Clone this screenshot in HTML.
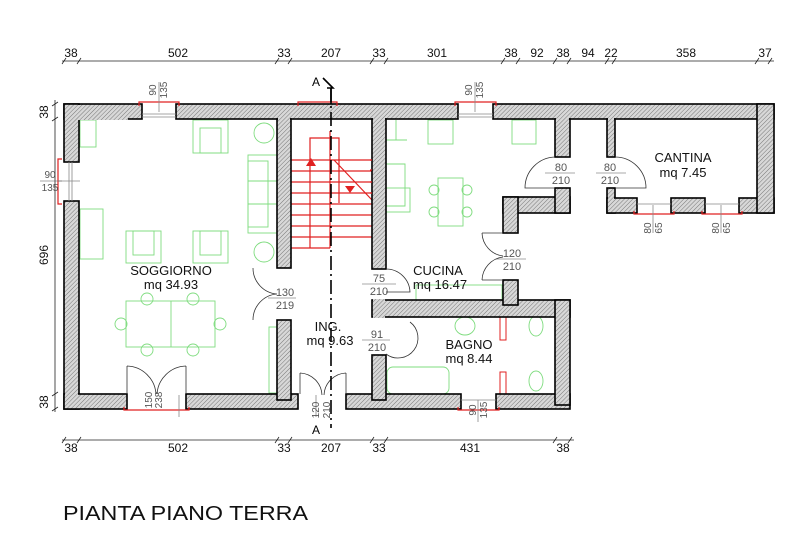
<!DOCTYPE html>
<html><head><meta charset="utf-8"><style>
html,body{margin:0;padding:0;background:#fff;}
svg{display:block;}
text{font-family:"Liberation Sans",sans-serif;}
</style></head><body>
<svg width="800" height="533" viewBox="0 0 800 533" xmlns="http://www.w3.org/2000/svg">
<defs>
<pattern id="h" width="3" height="3" patternUnits="userSpaceOnUse" patternTransform="rotate(45)">
<rect width="3" height="3" fill="#d8d8d8"/><line x1="0" y1="0" x2="0" y2="3" stroke="#777" stroke-width="1"/>
</pattern>
</defs>
<rect width="800" height="533" fill="#fff"/>

<g stroke="#222" stroke-width="0.8" fill="none">
<line x1="62" y1="61" x2="774" y2="61"/>
<line x1="62" y1="440" x2="574" y2="440"/>
<line x1="55" y1="100" x2="55" y2="412"/>
</g>
<g stroke="#222" stroke-width="0.8">
<path d="M62 64l4-6M77 64l4-6M275 64l4-6M288 64l4-6M370 64l4-6M384 64l4-6M501 64l4-6M516 64l4-6M553 64l4-6M567 64l4-6M605 64l4-6M612 64l4-6M755 64l4-6M768 64l4-6"/>
<path d="M62 443l4-6M77 443l4-6M275 443l4-6M288 443l4-6M370 443l4-6M384 443l4-6M553 443l4-6M568 443l4-6"/>
<path d="M52 106l6-4M52 121l6-4M52 396l6-4M52 411l6-4"/>
</g>
<g font-size="12" fill="#111" text-anchor="middle">
<text x="71" y="57">38</text><text x="178" y="57">502</text><text x="284" y="57">33</text><text x="331" y="57">207</text><text x="379" y="57">33</text><text x="437" y="57">301</text><text x="511" y="57">38</text><text x="537" y="57">92</text><text x="563" y="57">38</text><text x="588" y="57">94</text><text x="611" y="57">22</text><text x="686" y="57">358</text><text x="765" y="57">37</text>
<text x="71" y="452">38</text><text x="178" y="452">502</text><text x="284" y="452">33</text><text x="331" y="452">207</text><text x="379" y="452">33</text><text x="470" y="452">431</text><text x="563" y="452">38</text>
<text transform="translate(48,112) rotate(-90)">38</text>
<text transform="translate(48,255) rotate(-90)">696</text>
<text transform="translate(48,402) rotate(-90)">38</text>
</g>

<g stroke="#7fdc7f" stroke-width="0.9" fill="none">
<rect x="80" y="120" width="16" height="27"/>
<rect x="193" y="120" width="35" height="33"/><rect x="200" y="128" width="21" height="25"/>
<circle cx="264" cy="133" r="10"/><circle cx="264" cy="252" r="10"/>
<rect x="248" y="155" width="29" height="78"/><rect x="248" y="161" width="20" height="66"/>
<line x1="248" y1="181" x2="277" y2="181"/><line x1="248" y1="204" x2="277" y2="204"/>
<rect x="80" y="209" width="23" height="50"/>
<rect x="126" y="231" width="35" height="32"/><rect x="133" y="231" width="21" height="24"/>
<rect x="193" y="231" width="35" height="32"/><rect x="200" y="231" width="21" height="24"/>
<rect x="126" y="301" width="89" height="46"/><line x1="171" y1="301" x2="171" y2="347"/>
<circle cx="147" cy="299" r="6"/><circle cx="193" cy="299" r="6"/><circle cx="147" cy="350" r="6"/><circle cx="193" cy="350" r="6"/>
<circle cx="121" cy="324" r="6"/><circle cx="220" cy="324" r="6"/>
<rect x="269" y="327" width="8" height="66"/>
<path d="M386 140h21M396 120v20M386 164h19v42h-19"/>
<rect x="428" y="120" width="25" height="24"/><rect x="512" y="120" width="24" height="24"/>
<rect x="438" y="178" width="25" height="48"/>
<circle cx="434" cy="190" r="5"/><circle cx="434" cy="212" r="5"/><circle cx="467" cy="190" r="5"/><circle cx="467" cy="212" r="5"/>
<rect x="386" y="188" width="24" height="24"/>
<rect x="416" y="285" width="86" height="15"/>
<rect x="387" y="367" width="62" height="27" rx="6"/>
<ellipse cx="465" cy="326" rx="10" ry="9"/><ellipse cx="536" cy="326" rx="7" ry="10"/><ellipse cx="536" cy="381" rx="7" ry="10"/>
</g>
<g stroke="#e02020" stroke-width="1" fill="none">
<rect x="500" y="316" width="6" height="24"/><rect x="500" y="372" width="6" height="24"/>
</g>

<g stroke="#e02020" stroke-width="1.2" fill="none">
<path d="M291 160h81M291 171h81M291 182h81M291 193h81M291 204h81M291 215h81M291 226h81M291 237h81M291 248h39"/>
<path d="M310 248v-110h29v65M330 131v117M334 160l38 40"/>
</g>
<path d="M306 166l5-8 5 8z M345 186h10l-5 7z" fill="#e02020"/>

<g fill="url(#h)" stroke="#000" stroke-width="1.6">
<rect x="64" y="104" width="78" height="15"/>
<rect x="176" y="104" width="282" height="15"/>
<rect x="493" y="104" width="281" height="15"/>
<rect x="64" y="104" width="15" height="58"/>
<rect x="64" y="201" width="15" height="208"/>
<rect x="64" y="394" width="63" height="15"/>
<rect x="186" y="394" width="112" height="15"/>
<rect x="346" y="394" width="115" height="15"/>
<rect x="496" y="394" width="74" height="15"/>
<rect x="277" y="119" width="14" height="149"/>
<rect x="277" y="320" width="14" height="80"/>
<rect x="372" y="119" width="14" height="150"/>
<rect x="372" y="300" width="198" height="17"/>
<rect x="372" y="355" width="14" height="45"/>
<rect x="555" y="300" width="15" height="105"/>
<rect x="503" y="280" width="15" height="25"/>
<rect x="555" y="119" width="15" height="38"/>
<rect x="503" y="197" width="67" height="16"/>
<rect x="555" y="188" width="15" height="25"/>
<rect x="503" y="197" width="15" height="36"/>
<rect x="607" y="119" width="8" height="38"/>
<rect x="607" y="188" width="8" height="25"/>
<rect x="607" y="198" width="30" height="15"/>
<rect x="671" y="198" width="34" height="15"/>
<rect x="739" y="198" width="35" height="15"/>
<rect x="757" y="104" width="17" height="109"/>
</g>
<g fill="url(#h)">
<rect x="78" y="105" width="50" height="15"/><rect x="278" y="105" width="12" height="15"/><rect x="373" y="105" width="12" height="15"/>
<rect x="556" y="105" width="13" height="15"/><rect x="608" y="105" width="6" height="15"/><rect x="758" y="105" width="15" height="15"/>
<rect x="65" y="118" width="13" height="4"/><rect x="65" y="393" width="13" height="4"/>
<rect x="373" y="299" width="12" height="19"/><rect x="556" y="301" width="13" height="16"/><rect x="504" y="299" width="13" height="4"/>
<rect x="504" y="198" width="13" height="14"/><rect x="556" y="196" width="13" height="16"/>
<rect x="608" y="197" width="6" height="15"/><rect x="758" y="197" width="15" height="15"/>
<rect x="278" y="393" width="12" height="2"/><rect x="373" y="393" width="12" height="2"/><rect x="556" y="393" width="13" height="2"/>
</g>

<g stroke="#e02020" stroke-width="1.2" fill="none">
<path d="M139 106v-4h40v4M455 106v-4h41v4M298 106v-4h39v4M62 159h-4v45h4M124 407v3h65v-3M458 407v3h41v-3M634 211v3h40v-3M702 211v3h40v-3"/>
<path d="M370 160h2M370 170h2M370 182h2M370 193h2"/>
</g>
<g stroke="#888" stroke-width="0.8" fill="none">
<path d="M142 114h34M142 117h34M458 114h35M458 117h35M69 162v39M72 162v39M637 204h34M705 204h34M461 400h35"/>
<path d="M159 82v30M475 82v30M58 181h22M653 205v28M721 205v28M478 400v22M179 395v22M316 395v22"/>
</g>
<g font-size="10" fill="#555" text-anchor="middle">
<text transform="translate(156,90) rotate(-90)">90</text><text transform="translate(167,90) rotate(-90)">135</text>
<text transform="translate(472,90) rotate(-90)">90</text><text transform="translate(483,90) rotate(-90)">135</text>
<text x="50" y="178">90</text><text x="50" y="191">135</text>
<line x1="40" y1="181" x2="62" y2="181" stroke="#555" stroke-width="0.6"/>
<text transform="translate(651,228) rotate(-90)">80</text><text transform="translate(662,228) rotate(-90)">65</text>
<text transform="translate(719,228) rotate(-90)">80</text><text transform="translate(730,228) rotate(-90)">65</text>
<text transform="translate(476,410) rotate(-90)">90</text><text transform="translate(487,410) rotate(-90)">135</text>
<text transform="translate(152,400) rotate(-90)">150</text><text transform="translate(162,400) rotate(-90)">238</text>
<text transform="translate(319,410) rotate(-90)">120</text><text transform="translate(330,410) rotate(-90)">210</text>
<g font-size="11">
<text x="285" y="296">130</text><text x="285" y="309">219</text>
<text x="379" y="282">75</text><text x="379" y="295">210</text>
<text x="377" y="338">91</text><text x="377" y="351">210</text>
<text x="512" y="257">120</text><text x="512" y="270">210</text>
<text x="561" y="171">80</text><text x="561" y="184">210</text>
<text x="610" y="171">80</text><text x="610" y="184">210</text>
</g>
</g>
<g stroke="#555" stroke-width="0.6">
<path d="M268 298h28M362 284h34M362 340h28M496 259h30M545 173h30M596 173h30"/>
</g>
<g stroke="#333" stroke-width="0.8" fill="none">
<path d="M253 268a26 26 0 0 0 24 26a26 26 0 0 0 -24 26"/>
<path d="M127 366a30 30 0 0 1 29 28M186 366a30 30 0 0 0 -29 28M127 366v28M186 366v28"/>
<path d="M300 373a23 23 0 0 1 22 22M346 373a23 23 0 0 0 -22 22M300 373v21M346 373v21"/>
<path d="M386 269a24 24 0 0 1 24 23h-24"/>
<path d="M410 322a20 20 0 0 1 -24 32"/>
<path d="M482 233h21M482 280h21M482 233a24 24 0 0 0 21 23M482 280a24 24 0 0 1 21 -23"/>
<path d="M555 157a31 31 0 0 0 -30 31h30M615 157a31 31 0 0 1 31 31h-31"/>
</g>

<g stroke="#000" stroke-width="1.6" fill="none">
<line x1="331" y1="88" x2="331" y2="428" stroke-dasharray="14,4,2,4"/>
<path d="M323 78l10 10h-6M331 88v16"/>
</g>
<text x="312" y="86" font-size="12">A</text>
<text x="312" y="434" font-size="12">A</text>

<g font-size="13" fill="#111" text-anchor="middle">
<text x="171" y="275">SOGGIORNO</text><text x="171" y="289">mq 34.93</text>
<text x="328" y="331">ING.</text><text x="330" y="345">mq 9.63</text>
<text x="438" y="275">CUCINA</text><text x="440" y="289">mq 16.47</text>
<text x="469" y="349">BAGNO</text><text x="469" y="363">mq 8.44</text>
<text x="683" y="162">CANTINA</text><text x="683" y="177">mq 7.45</text>
</g>
<text x="63" y="520" font-size="20" fill="#111" textLength="245" lengthAdjust="spacingAndGlyphs">PIANTA PIANO TERRA</text>
</svg>
</body></html>
